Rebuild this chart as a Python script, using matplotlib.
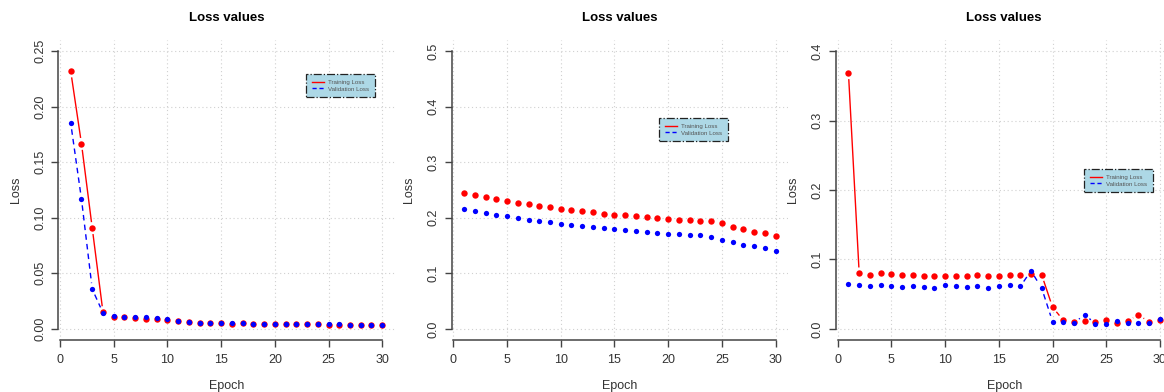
import matplotlib
matplotlib.use("Agg")
import matplotlib.pyplot as plt
import numpy as np
from matplotlib.lines import Line2D

plt.rcParams['font.family'] = ['Liberation Sans', 'DejaVu Sans']

# Loss values per epoch
epochs = list(range(1, 31))

train_1 = [0.2317, 0.1665, 0.0907, 0.0150, 0.0110, 0.0110, 0.0102, 0.0093, 0.0087, 0.0078,
           0.0069, 0.0063, 0.0057, 0.0054, 0.0054, 0.0048, 0.0054, 0.0048, 0.0048, 0.0048,
           0.0048, 0.0048, 0.0048, 0.0045, 0.0039, 0.0039, 0.0039, 0.0039, 0.0039, 0.0039]
valid_1 = [0.1850, 0.1166, 0.0358, 0.0144, 0.0120, 0.0110, 0.0105, 0.0110, 0.0096, 0.0087,
           0.0072, 0.0063, 0.0057, 0.0054, 0.0054, 0.0057, 0.0054, 0.0048, 0.0048, 0.0048,
           0.0048, 0.0048, 0.0048, 0.0048, 0.0042, 0.0042, 0.0039, 0.0039, 0.0039, 0.0039]

train_2 = [0.2443, 0.2413, 0.2365, 0.2329, 0.2299, 0.2269, 0.2239, 0.2209, 0.2191, 0.2161,
           0.2131, 0.2113, 0.2101, 0.2071, 0.2053, 0.2041, 0.2023, 0.2005, 0.1993, 0.1975,
           0.1963, 0.1957, 0.1945, 0.1933, 0.1903, 0.1837, 0.1789, 0.1747, 0.1717, 0.1669]
valid_2 = [0.2161, 0.2125, 0.2089, 0.2053, 0.2023, 0.1993, 0.1963, 0.1933, 0.1915, 0.1885,
           0.1867, 0.1849, 0.1825, 0.1807, 0.1789, 0.1777, 0.1759, 0.1747, 0.1729, 0.1711,
           0.1699, 0.1693, 0.1681, 0.1651, 0.1603, 0.1561, 0.1513, 0.1483, 0.1447, 0.1405]

train_3 = [0.3683, 0.0798, 0.0774, 0.0798, 0.0788, 0.0774, 0.0774, 0.0764, 0.0764, 0.0764,
           0.0764, 0.0764, 0.0774, 0.0764, 0.0764, 0.0774, 0.0774, 0.0784, 0.0774, 0.0313,
           0.0125, 0.0101, 0.0115, 0.0096, 0.0125, 0.0091, 0.0115, 0.0202, 0.0101, 0.0130]
valid_3 = [0.0649, 0.0625, 0.0611, 0.0635, 0.0611, 0.0601, 0.0611, 0.0601, 0.0596, 0.0625,
           0.0611, 0.0601, 0.0611, 0.0596, 0.0611, 0.0630, 0.0611, 0.0837, 0.0582, 0.0106,
           0.0101, 0.0091, 0.0202, 0.0077, 0.0067, 0.0115, 0.0082, 0.0082, 0.0082, 0.0144]

y_max = [0.25, 0.5, 0.4]
y_ticks = [[0.00, 0.05, 0.10, 0.15, 0.20, 0.25],
           [0.0, 0.1, 0.2, 0.3, 0.4, 0.5],
           [0.0, 0.1, 0.2, 0.3, 0.4]]
y_fmt = ["{:.2f}", "{:.1f}", "{:.1f}"]
x_ticks = [0, 5, 10, 15, 20, 25, 30]

W, H = 1164, 392
fig = plt.figure(figsize=(W / 100, H / 100), dpi=100)

TXT = '#333333'
panel_left = [58.3, 451.6, 836.0]
legend_pos = [(306, 74), (659, 118), (1084, 169)]


def px_axes(left, top, right, bottom):
    return fig.add_axes([left / W, 1 - bottom / H, (right - left) / W, (bottom - top) / H])


def gapped(ax, x, y, gap, **kw):
    # R's type="b": segments stop short of each point
    pts = ax.transData.transform(np.column_stack([x, y]))
    inv = ax.transData.inverted()
    for p, q in zip(pts[:-1], pts[1:]):
        d = q - p
        n = np.hypot(*d)
        if n <= 2 * gap:
            continue
        u = d / n
        a = inv.transform(p + u * gap)
        b = inv.transform(q - u * gap)
        ax.plot([a[0], b[0]], [a[1], b[1]], **kw)


series = [(train_1, valid_1), (train_2, valid_2), (train_3, valid_3)]

for i, (tr, va) in enumerate(series):
    ax = px_axes(panel_left[i], 40, panel_left[i] + 336.4, 340)
    top = y_max[i]
    ax.set_xlim(1 - 0.04 * 29, 30 + 0.04 * 29)
    ax.set_ylim(-0.04 * top, top * 1.04)

    for s in ['top', 'right']:
        ax.spines[s].set_visible(False)
    ax.spines['left'].set_bounds(0, top)
    ax.spines['bottom'].set_bounds(0, 30)
    for s in ['left', 'bottom']:
        ax.spines[s].set_color('#444444')
        ax.spines[s].set_linewidth(1.1)

    ax.set_xticks(x_ticks)
    ax.set_yticks(y_ticks[i])
    ax.set_yticklabels([y_fmt[i].format(v) for v in y_ticks[i]], rotation=90, va='center')
    ax.tick_params(axis='both', length=4.8, width=1.0, color='#444444',
                   labelsize=9, labelcolor=TXT)
    ax.tick_params(axis='y', pad=4)
    ax.tick_params(axis='x', pad=5)

    for xv in x_ticks:
        ax.axvline(xv, color='#d0d0d0', lw=0.8, ls=(0, (1, 2.5)), zorder=0)
    for yv in y_ticks[i]:
        ax.axhline(yv, color='#d0d0d0', lw=0.8, ls=(0, (1, 2.5)), zorder=0)

    gapped(ax, epochs, tr, 6, color='red', lw=1.0, solid_capstyle='butt')
    ax.plot(epochs, tr, 'o', color='red', ms=4.6, mec='none', zorder=3)
    gapped(ax, epochs, va, 6, color='blue', lw=1.0, ls=(0, (4, 3)))
    ax.plot(epochs, va, 'o', color='blue', ms=3.8, mec='none', zorder=4)

    ax.set_title("Loss values", fontsize=9.5, fontweight='bold', color='black', pad=13.5)
    ax.set_xlabel("Epoch", fontsize=9, color=TXT, labelpad=10)
    ax.set_ylabel("Loss", fontsize=9, color=TXT, labelpad=9)

    handles = [Line2D([], [], color='red', lw=1.0),
               Line2D([], [], color='blue', lw=1.0, ls=(0, (3, 2)))]
    lx, ly = legend_pos[i]
    leg = ax.legend(handles, ["Training Loss", "Validation Loss"], loc='upper left',
                    bbox_to_anchor=(lx / W, 1 - ly / H), bbox_transform=fig.transFigure,
                    fontsize=4.4, labelcolor='#555555', frameon=True, fancybox=False,
                    facecolor='#add8e6', edgecolor='#222222', framealpha=1,
                    borderaxespad=0, handlelength=2.0, handletextpad=0.7,
                    borderpad=0.9, labelspacing=0.25)
    leg.get_frame().set_linestyle('-.')
    leg.get_frame().set_linewidth(0.9)

fig.savefig("out.png", dpi=100)
